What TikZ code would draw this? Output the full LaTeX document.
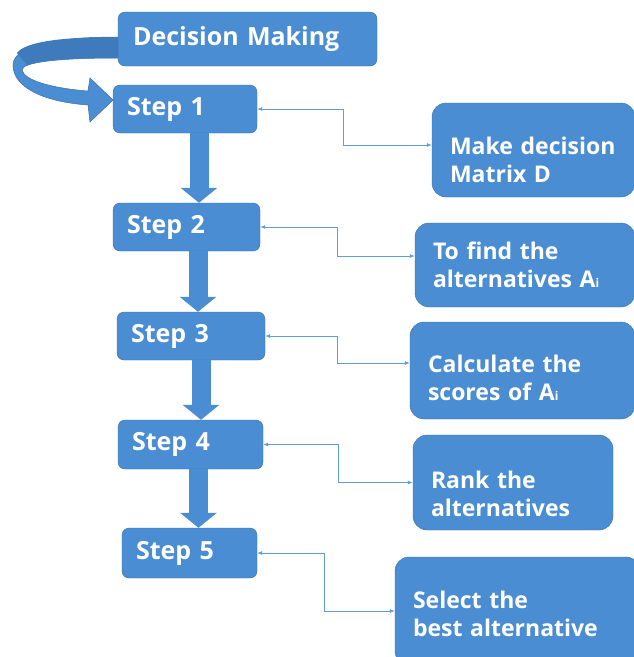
\documentclass[tikz,border=0pt]{standalone}
\usepackage{fontspec}
\setmainfont{Open Sans}
\usetikzlibrary{arrows.meta}
\definecolor{boxblue}{RGB}{74,141,211}
\definecolor{boxedge}{RGB}{58,112,170}
\definecolor{backblue}{RGB}{62,122,188}
\definecolor{linkblue}{RGB}{96,158,215}
\newcommand{\subi}{{\fontsize{12}{12}\selectfont i}}
\newcommand{\lowtext}[1]{\rule{0pt}{#1}}
\begin{document}
\begin{tikzpicture}[x=1pt, y=-1pt,
stepnode/.style={rectangle, rounded corners=7pt, draw=boxedge, fill=boxblue, text=white, align=left, inner xsep=14pt, inner ysep=0pt, font=\bfseries\fontsize{25}{30}\selectfont},
infonode/.style={rectangle, rounded corners=14pt, draw=boxedge, fill=boxblue, text=white, align=left, inner xsep=18pt, inner ysep=0pt, font=\bfseries\fontsize{23}{28}\selectfont},
blockarrow/.style={draw=boxblue, line width=19pt, -{Triangle[width=36pt, length=15pt]}},
link/.style={draw=linkblue, line width=0.8pt, {Latex[length=5pt, width=4pt]}-{Latex[length=5pt, width=4pt]}},
]
\useasboundingbox (0,0) rectangle (633,657);
%Nodes
\node[stepnode, inner xsep=15pt, text width=229pt, minimum height=54pt] at (247.5,39) (dm) {Decision Making};
\node[stepnode, text width=116pt, minimum height=48pt] at (185,109) (step1) {Step 1};
\node[stepnode, text width=119pt, minimum height=48pt] at (186.5,227) (step2) {Step 2};
\node[stepnode, text width=120pt, minimum height=48pt] at (191,336) (step3) {Step 3};
\node[stepnode, text width=117pt, minimum height=49pt] at (190.5,444.5) (step4) {Step 4};
\node[stepnode, text width=107pt, minimum height=50pt] at (189.5,553) (step5) {Step 5};
\node[infonode, text width=167pt, minimum height=94pt] at (533.5,150) (matrix) {\lowtext{37pt}Make decision\\Matrix D};
\node[infonode, text width=184pt, minimum height=84pt] at (525,265) (find) {To find the\\alternatives A\subi};
\node[infonode, text width=189pt, minimum height=97pt] at (522.5,370.5) (calc) {\lowtext{33pt}Calculate the\\scores of A\subi};
\node[infonode, text width=164pt, minimum height=95pt] at (513,482.5) (rank) {\lowtext{41pt}Rank the\\alternatives};
\node[infonode, text width=209pt, minimum height=108pt] at (517.5,611) (select) {\lowtext{23pt}Select the\\best alternative};
%Curved arrow
\fill[boxblue, draw=boxedge, line width=0.5pt] (dm.west |- 0,37) .. controls (60,37) and (13,45) .. (13,65)
  .. controls (13,88) and (45,102) .. (88,105) -- (90,122) -- (113,100) -- (90,78) -- (88,91)
  .. controls (50,88) and (24,80) .. (22,70) .. controls (22,62) and (60,58) .. (dm.west |- 0,58) -- cycle;
\fill[backblue] (dm.west |- 0,37) .. controls (60,37) and (25,42) .. (17,53) -- (27,65)
  .. controls (45,59) and (80,58) .. (dm.west |- 0,58) -- cycle;
%Lines
\draw[blockarrow] ([xshift=14pt]step1.south) -- ([xshift=14pt]step1.south |- step2.north);
\draw[blockarrow] ([xshift=11.5pt]step2.south) -- ([xshift=11.5pt]step2.south |- step3.north);
\draw[blockarrow] ([xshift=10pt]step3.south) -- ([xshift=10pt]step3.south |- step4.north);
\draw[blockarrow] ([xshift=8pt]step4.south) -- ([xshift=8pt]step4.south |- step5.north);
\draw[link] (step1.east) -- ++(86,0) |- ([yshift=5pt]matrix.west);
\draw[link] (step2.east) -- ++(77,0) |- ([yshift=9pt]find.west);
\draw[link] (step3.east) -- ++(72,0) |- ([yshift=7.5pt]calc.west);
\draw[link] (step4.east) -- ++(75,0) |- (rank.west);
\draw[link] (step5.east) -- ++(67,0) |- (select.west);
\end{tikzpicture}
\end{document}
